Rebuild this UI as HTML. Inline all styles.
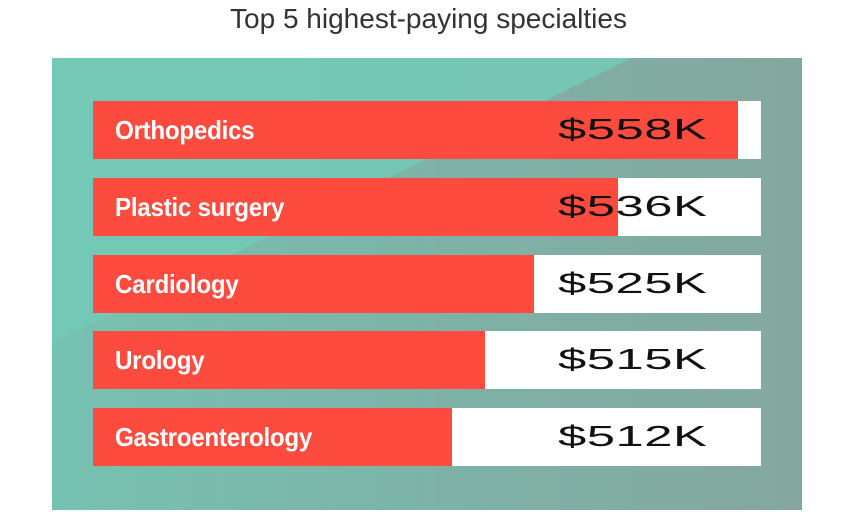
<!DOCTYPE html>
<html><head><style>
body{margin:0;width:841px;height:529px;background:#fff;position:relative;overflow:hidden;font-family:"Liberation Sans",sans-serif}
.t{position:absolute;top:3px;left:0;width:857px;text-align:center;font-size:28px;color:#333}
.p{position:absolute;left:52px;top:58px;width:750px;height:452px;background:linear-gradient(90deg,#76c2b2 0%,#7fb0a5 60%,#84a89f 100%)}
.row{position:absolute;left:93px;width:668px;height:58px;background:#fff;overflow:hidden}
.red{position:absolute;left:0;top:0;height:100%;background:#fd4b3f}
.lab{position:absolute;left:22px;top:0;line-height:58px;color:#fff;font-weight:bold;font-size:26px;transform:scaleX(0.93);transform-origin:left;letter-spacing:-0.3px}
.val{position:absolute;left:465px;top:0;line-height:58px;color:#111;font-size:29px;transform:scaleX(1.75);transform-origin:left;letter-spacing:0.3px}
</style></head><body>
<div class="t">Top 5 highest-paying specialties</div>
<div class="p">
<svg width="750" height="452" style="position:absolute;left:0;top:0"><polygon points="0,0 580,0 0,285" fill="#73cab7" opacity="0.85"/></svg>
</div>
<div class="row" style="top:101px"><div class="red" style="width:645px"></div><div class="lab">Orthopedics</div><div class="val">$558K</div></div>
<div class="row" style="top:178px"><div class="red" style="width:525px"></div><div class="lab">Plastic surgery</div><div class="val">$536K</div></div>
<div class="row" style="top:255px"><div class="red" style="width:441px"></div><div class="lab">Cardiology</div><div class="val">$525K</div></div>
<div class="row" style="top:331px"><div class="red" style="width:392px"></div><div class="lab">Urology</div><div class="val">$515K</div></div>
<div class="row" style="top:408px"><div class="red" style="width:359px"></div><div class="lab">Gastroenterology</div><div class="val">$512K</div></div>
</body></html>
